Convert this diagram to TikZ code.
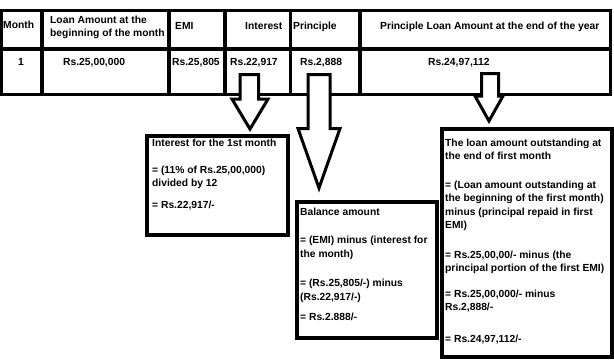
\documentclass[tikz,border=0pt]{standalone}
\usepackage{fontspec}
\setmainfont{Liberation Sans}
\begin{document}
\begin{tikzpicture}[x=1pt,y=-1pt,
  tline/.style={line width=3.5pt},
  blk/.style={draw=black,fill=white,line width=3pt,line join=miter},
  box/.style={draw=black,line width=4pt,inner sep=0pt,anchor=north west},
  cell/.style={font=\fontsize{10.3}{13.5}\selectfont\bfseries,inner sep=0pt,anchor=base west,align=left},
  txt/.style={font=\fontsize{10.3}{13.5}\selectfont\bfseries,inner sep=0pt,anchor=north west,align=left},
]
\useasboundingbox (0,0) rectangle (614,360);
% table
\draw[tline] (1.5,10.5) rectangle (610.5,94.5);
\draw[tline] (0,49) -- (612,49);
\foreach \x in {42,169,225,290.5,360} \draw[tline] (\x,10.5) -- (\x,94.5);
% header
\node[cell] (h1) at (3,28) {Month};
\node[cell,anchor=north west] (h2) at (50,15.5) {Loan Amount at the\\beginning of the month};
\node[cell] (h3) at (175,29) {EMI};
\node[cell] (h4) at (245,29) {Interest};
\node[cell] (h5) at (293,29) {Principle};
\node[cell] (h6) at (380,29) {Principle Loan Amount at the end of the year};
% row
\node[cell] (r1) at (18,65) {1};
\node[cell] (r2) at (63,65) {Rs.25,00,000};
\node[cell] (r3) at (172,65) {Rs.25,805};
\node[cell] (r4) at (230,65) {Rs.22,917};
\node[cell] (r5) at (300,65) {Rs.2,888};
\node[cell] (r6) at (428,65) {Rs.24,97,112};
% block arrows
\draw[blk] (240,74.5) -- (258.5,74.5) -- (258.5,99) -- (268,99) -- (250,129) -- (232,99) -- (240,99) -- cycle;
\draw[blk] (308,74.5) -- (330,74.5) -- (330,128.5) -- (340,128.5) -- (319,188) -- (298,128.5) -- (308,128.5) -- cycle;
\draw[blk] (481.5,73.5) -- (498.5,73.5) -- (498.5,96) -- (503,96) -- (489,121) -- (475,96) -- (481.5,96) -- cycle;
% boxes
\node[box,minimum width=141pt,minimum height=99pt] (b1) at (145,134) {};
\node[box,minimum width=140pt,minimum height=136pt] (b2) at (295,200) {};
\node[box,minimum width=170pt,minimum height=228pt] (b3) at (440,127) {};
\node[txt] (t1) at (152,139) {Interest for the 1st month\\[13pt]
= (11\% of Rs.25,00,000)\\divided by 12\\[8pt]
= Rs.22,917/-};
\node[txt] (t2) at (300,207.5) {Balance amount\\[15pt]
= (EMI) minus (interest for\\the month)\\[16pt]
= (Rs.25,805/-) minus\\(Rs.22,917/-)\\[7pt]
= Rs.2.888/-};
\node[txt] (t3) at (445,138.5) {The loan amount outstanding at\\the end of first month\\[15pt]
= (Loan amount outstanding at\\the beginning of the first month)\\minus (principal repaid in first\\EMI)\\[16pt]
= Rs.25,00,00/- minus (the\\principal portion of the first EMI)\\[12pt]
= Rs.25,00,000/- minus\\Rs.2,888/-\\[18pt]
= Rs.24,97,112/-};
\end{tikzpicture}
\end{document}
